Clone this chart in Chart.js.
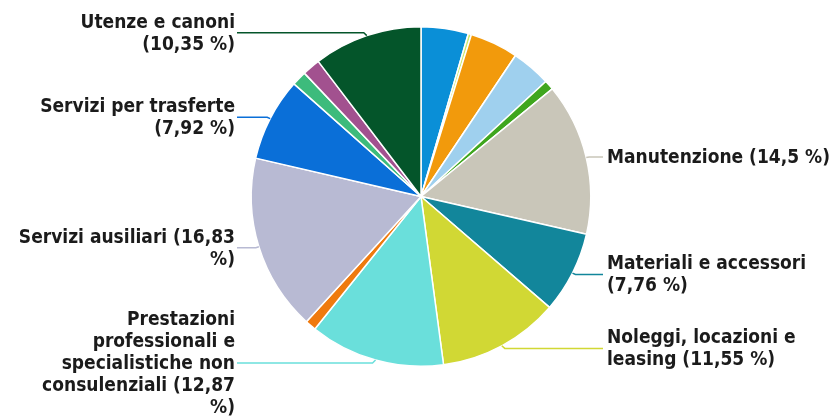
<!DOCTYPE html>
<html>
<head>
<meta charset="utf-8">
<script src="https://cdn.jsdelivr.net/npm/chart.js@4/dist/chart.umd.min.js"></script>
<style>
  html, body { margin: 0; padding: 0; background: #fff; }
  #wrap { width: 830px; height: 418px; position: relative; }
</style>
</head>
<body>
<div id="wrap"><canvas id="pie"></canvas></div>
<script>
// voci di spesa, in senso orario da ore 12
const categories = [
  '', '', '', '', '',
  'Manutenzione',
  'Materiali e accessori',
  'Noleggi, locazioni e leasing',
  'Prestazioni professionali e specialistiche non consulenziali',
  '',
  'Servizi ausiliari',
  'Servizi per trasferte',
  '', '',
  'Utenze e canoni',
];
const shares = [
  4.5, 0.3, 4.6, 3.75, 0.92,
  14.5, 7.76, 11.55, 12.87,
  1.05, 16.83, 7.92,
  1.4, 1.7, 10.35,
];
const sliceColors = [
  '#0a8fd7', '#cfe86a', '#f29a0c', '#9fd0ee', '#3fa61e',
  '#c9c6b9', '#12869b', '#d1d834', '#6adfdb',
  '#ef7a0e', '#b8bad3', '#0a6fd8',
  '#3dbb7c', '#a2518f', '#04552a',
];
// testo delle etichette, già spezzato su più righe
const labelLines = [
  null, null, null, null, null,
  ['Manutenzione (14,5 %)'],
  ['Materiali e accessori', '(7,76 %)'],
  ['Noleggi, locazioni e', 'leasing (11,55 %)'],
  ['Prestazioni', 'professionali e', 'specialistiche non', 'consulenziali (12,87', '%)'],
  null,
  ['Servizi ausiliari (16,83', '%)'],
  ['Servizi per trasferte', '(7,92 %)'],
  null, null,
  ['Utenze e canoni', '(10,35 %)'],
];

const LABEL_FONT = 'bold 19px "DejaVu Sans Condensed", "DejaVu Sans", sans-serif';
const LINE_H = 22;

const pieLabels = {
  id: 'pieLabels',
  afterDatasetsDraw(chart) {
    const ctx = chart.ctx;
    const arcs = chart.getDatasetMeta(0).data;
    ctx.save();
    ctx.font = LABEL_FONT;
    ctx.textBaseline = 'middle';
    arcs.forEach((arc, i) => {
      const lines = labelLines[i];
      if (!lines) return;
      const { x: cx, y: cy, startAngle, endAngle, outerRadius } = arc.getProps(
        ['x', 'y', 'startAngle', 'endAngle', 'outerRadius'], true);
      const mid = (startAngle + endAngle) / 2;
      const right = Math.cos(mid) >= 0;
      const ex = cx + Math.cos(mid) * outerRadius;
      const ey = cy + Math.sin(mid) * outerRadius;
      const ly = cy + Math.sin(mid) * (outerRadius + 3);
      const tx = right ? 607 : 235;
      const bend = ex + (right ? 3 : -3);

      ctx.strokeStyle = sliceColors[i];
      ctx.lineWidth = 1.5;
      ctx.beginPath();
      ctx.moveTo(ex, ey);
      ctx.lineTo(bend, ly);
      ctx.lineTo(right ? tx - 4 : tx + 2, ly);
      ctx.stroke();

      // il blocco di testo è centrato sulla linea di richiamo
      const top = ly - (lines.length - 1) * LINE_H / 2 + 1;
      ctx.textAlign = right ? 'left' : 'right';
      lines.forEach((t, k) => {
        const y = top + k * LINE_H;
        ctx.lineWidth = 2;
        ctx.strokeStyle = '#ffffff';
        ctx.strokeText(t, tx, y);
        ctx.fillStyle = '#1b1b1b';
        ctx.fillText(t, tx, y);
      });
    });
    ctx.restore();
  },
};

new Chart(document.getElementById('pie'), {
  type: 'pie',
  data: {
    labels: categories,
    datasets: [{
      data: shares,
      backgroundColor: sliceColors,
      borderColor: '#ffffff',
      borderWidth: 1.5,
    }],
  },
  options: {
    responsive: true,
    maintainAspectRatio: false,
    animation: false,
    layout: { padding: { left: 250, right: 238, top: 26, bottom: 51 } },
    plugins: {
      legend: { display: false },
      tooltip: { enabled: false },
    },
  },
  plugins: [pieLabels],
});
</script>
</body>
</html>
